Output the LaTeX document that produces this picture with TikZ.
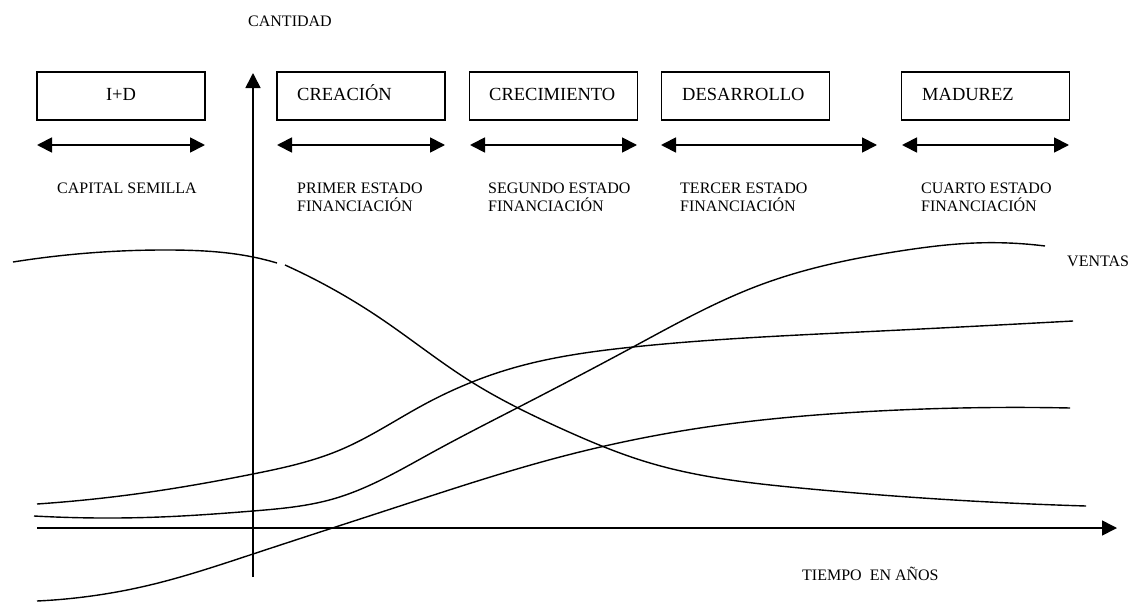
\documentclass[tikz,border=0pt]{standalone}
\usepackage{fontspec}
\setmainfont{Liberation Serif}
\usetikzlibrary{arrows.meta,hobby}
\begin{document}
\begin{tikzpicture}[x=1pt,y=-1pt,
  stagebox/.style={draw,line width=1.3pt,minimum width=168pt,minimum height=48pt,inner sep=0pt},
  boxlbl/.style={font=\fontsize{18.5}{18.5}\selectfont,anchor=base west,inner sep=0pt},
  lbl/.style={font=\fontsize{16}{18}\selectfont,anchor=base west,align=left,inner sep=0pt},
  span/.style={line width=1.8pt,{Triangle[length=15pt,width=15pt]}-{Triangle[length=15pt,width=15pt]}},
  axis/.style={line width=1.6pt,-{Triangle[length=15pt,width=15pt]}},
  curve/.style={line width=1.4pt,use Hobby shortcut}]
\useasboundingbox (0,0) rectangle (1142,602);
% boxes
\node[stagebox] (b1) at (121,96) {};
\node[stagebox] (b2) at (361,96) {};
\node[stagebox] (b3) at (553.5,96) {};
\node[stagebox] (b4) at (745.5,96) {};
\node[stagebox] (b5) at (985.5,96) {};
\node[boxlbl,anchor=base] (t1) at (121,100) {I+D};
\node[boxlbl] (t2) at (297,100) {CREACIÓN};
\node[boxlbl] (t3) at (489,100) {CRECIMIENTO};
\node[boxlbl] (t4) at (682,100) {DESARROLLO};
\node[boxlbl] (t5) at (922,100) {MADUREZ};
% span arrows
\coordinate (a1l) at (37,145); \coordinate (a1r) at (205,145);
\coordinate (a2l) at (277,145); \coordinate (a2r) at (445,145);
\coordinate (a3l) at (470,145); \coordinate (a3r) at (637,145);
\coordinate (a4l) at (661,145); \coordinate (a4r) at (877,145);
\coordinate (a5l) at (902,145); \coordinate (a5r) at (1069,145);
\draw[span] (a1l) -- (a1r);
\draw[span] (a2l) -- (a2r);
\draw[span] (a3l) -- (a3r);
\draw[span] (a4l) -- (a4r);
\draw[span] (a5l) -- (a5r);
% stage labels
\node[lbl] (s1) at (57,193) {CAPITAL SEMILLA};
\node[lbl] (s2) at (297,211) {PRIMER ESTADO\\FINANCIACIÓN};
\node[lbl] (s3) at (488,211) {SEGUNDO ESTADO\\FINANCIACIÓN};
\node[lbl] (s4) at (680,211) {TERCER ESTADO\\FINANCIACIÓN};
\node[lbl] (s5) at (921,211) {CUARTO ESTADO\\FINANCIACIÓN};
% axes
\node[lbl] (cant) at (248,27) {CANTIDAD};
\coordinate (yb) at (253,577); \coordinate (yt) at (253,73);
\coordinate (xl) at (37,528); \coordinate (xr) at (1117,528);
\draw[axis] (yb) -- (yt);
\draw[axis] (xl) -- (xr);
\node[lbl] (tiempo) at (802,580) {TIEMPO\ \ EN AÑOS};
\node[lbl] (ventas) at (1067,266) {VENTAS};
% curves
\draw[curve] (13,262) .. (170,250) .. (253,257) .. (277,263);
\draw[curve] (285,265) .. (380,318) .. (470,381) .. (560,428) .. (650,463) .. (800,488) .. (1086,506);
\draw[curve] (37,504) .. (150,492) .. (253,474) .. (340,450) .. (425,404) .. (513,368) .. (633,347) .. (860,332) .. (1073,321);
\draw[curve] (34,516) .. (160,517) .. (253,511) .. (333,499) .. (433,452) .. (517,408) .. (633,347) .. (760,285) .. (900,251) .. (975,243) .. (1045,246);
\draw[curve] (37,601) .. (150,585) .. (253,554) .. (400,506) .. (560,457) .. (700,428) .. (860,412) .. (1070,408);
\end{tikzpicture}
\end{document}
